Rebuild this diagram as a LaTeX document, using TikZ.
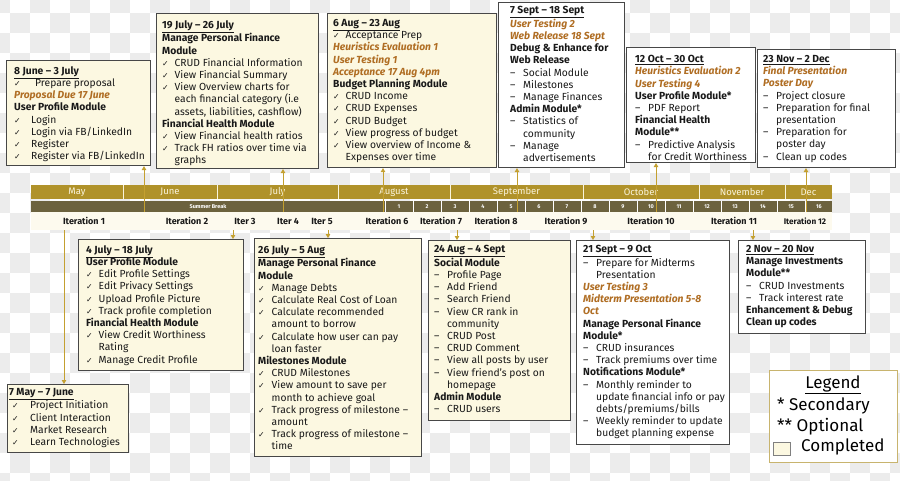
\documentclass[tikz,border=0pt]{standalone}
\usepackage{fontspec}
\setmainfont{Fira Sans}
\newfontfamily\ckf{DejaVu Sans}
\usetikzlibrary{arrows.meta,calc}
\definecolor{cream}{RGB}{252,248,225}
\definecolor{gold}{RGB}{176,146,42}
\definecolor{olive}{RGB}{108,98,62}
\definecolor{connc}{RGB}{196,160,48}
\definecolor{orng}{RGB}{176,110,36}
\definecolor{ink}{RGB}{25,25,25}
\definecolor{checker}{RGB}{236,236,236}
\definecolor{itrow}{RGB}{253,250,238}
\definecolor{legbd}{RGB}{200,180,110}
\definecolor{moncol}{RGB}{250,244,220}
\newcommand\CK[1][12.5pt]{\makebox[#1][l]{{\ckf\fontsize{7.8}{7.8}\selectfont ✓}}}
\newcommand\DS[1][13pt]{\makebox[#1][l]{–}}
\newcommand\IN[1][12.5pt]{\hspace*{#1}}
\newcommand\OR[1]{{\color{orng}\bfseries\itshape #1}}
\newcommand\TT[1]{\underline{\textbf{#1}}}
\newcommand\tbox[9]{%
  \node[#2, minimum width={(#5)-(#3)}, minimum height={(#6)-(#4)}] (#1) at (#3,#4) {};
  \node[txt] (#1t) at ({#7},{#8-4.8}) {#9};
}
\tikzset{
  boxbase/.style={draw=black!72, line width=1.1pt, anchor=north west, inner sep=0pt},
  done/.style={boxbase, fill=cream},
  todo/.style={boxbase, fill=white},
  txt/.style={anchor=north west, align=left, inner sep=0pt, text=ink,
    font=\fontsize{10.3}{12.2}\selectfont},
  conn/.style={draw=connc, line width=0.9pt, -{Triangle[length=4pt,width=4.5pt]}},
  mon/.style={text=moncol, font=\fontsize{9.5}{10}\selectfont, inner sep=0pt},
  wk/.style={text=white, font=\fontsize{5.5}{6}\selectfont\bfseries, inner sep=0pt},
  it/.style={text=ink, font=\fontsize{9}{10}\selectfont\bfseries, inner sep=0pt},
  leg/.style={text=black, font=\fontsize{17}{20}\selectfont, inner sep=0pt},
}
\begin{document}
\begin{tikzpicture}[x=1pt,y=-1pt]
\useasboundingbox (0,0) rectangle (900,480);
\begin{scope}
\clip (0,0) rectangle (900,480);
\fill[white] (0,0) rectangle (900,480);
\foreach \i in {0,...,46}{\foreach \j in {0,...,25}{
  \pgfmathtruncatemacro\pp{mod(\i+\j,2)}
  \ifnum\pp=0 \fill[checker] ({\i*20-10},{\j*20-7}) rectangle +(20,20);\fi
}}
\end{scope}

% ---------- timeline ----------
\fill[gold] (31,185) rectangle (832,199);
\foreach \x in {123,217,338,450,583,699,785} \draw[moncol, line width=1pt] (\x,185) -- (\x,199);
\foreach \x/\t [count=\k] in {77/May,170/June,277.5/July,394/August,516.5/September,641/October,742/November,808.5/Dec}
  \node[mon] (m\k) at (\x,192) {\t};
\fill[olive] (31,201) rectangle (832,212);
\foreach \k in {0,...,15} \draw[white, line width=1pt] ({385+28*\k},201) -- ++(0,11);
\node[wk] (sb) at (208,206.5) {Summer Break};
\foreach \k in {1,...,16} \node[wk] (w\k) at ({371+28*\k},206.5) {\k};
\fill[itrow] (31,212) rectangle (832,230);
\foreach \x/\t [count=\k] in {84/Iteration 1,187/Iteration 2,245/Iter 3,288/Iter 4,322/Iter 5,387/Iteration 6,441/Iteration 7,496/Iteration 8,566/Iteration 9,651/Iteration 10,734/Iteration 11}
  \node[it] (i\k) at (\x,221) {\t};
\node[it, font=\fontsize{8.2}{9}\selectfont\bfseries] (i12) at (805,221) {Iteration 12};

% ---------- top boxes ----------
\tbox{A}{done}{6}{60}{150}{165}{14}{71}{%
\TT{8 June – 3 July}\\
\CK[21pt]Prepare proposal\\
\OR{Proposal Due 17 June}\\
\textbf{User Profile Module}\\
\CK[17pt]Login\\
\CK[17pt]Login via FB/LinkedIn\\
\CK[17pt]Register\\
\CK[17pt]Register via FB/LinkedIn}

\tbox{B}{done}{156}{13}{318}{168}{162}{25}{%
\TT{19 July – 26 July}\\
\textbf{Manage Personal Finance}\\
\textbf{Module}\\
\CK CRUD Financial Information\\
\CK View Financial Summary\\
\CK View Overview charts for\\
\IN each financial category (i.e\\
\IN assets, liabilities, cashflow)\\
\textbf{Financial Health Module}\\
\CK View Financial health ratios\\
\CK Track FH ratios over time via\\
\IN graphs}

\tbox{C}{done}{327}{13}{496}{167}{333}{24}{%
\TT{6 Aug – 23 Aug}\\
\CK Acceptance Prep\\
\OR{Heuristics Evaluation 1}\\
\OR{User Testing 1}\\
\OR{Acceptance 17 Aug 4pm}\\
\textbf{Budget Planning Module}\\
\CK CRUD Income\\
\CK CRUD Expenses\\
\CK CRUD Budget\\
\CK View progress of budget\\
\CK View overview of Income \&\\
\IN Expenses over time}

\tbox{D}{todo}{498}{2}{624}{167}{510}{11}{%
\TT{7 Sept – 18 Sept}\\
\OR{User Testing 2}\\
\OR{Web Release 18 Sept}\\
\textbf{Debug \& Enhance for}\\
\textbf{Web Release}\\
\DS Social Module\\
\DS Milestones\\
\DS Manage Finances\\
\textbf{Admin Module*}\\
\DS Statistics of\\
\IN[13pt]community\\
\DS Manage\\
\IN[13pt]advertisements}

\tbox{E}{todo}{626}{47}{755}{162}{635}{60}{%
\TT{12 Oct – 30 Oct}\\
\OR{Heuristics Evaluation 2}\\
\OR{User Testing 4}\\
\textbf{User Profile Module*}\\
\DS PDF Report\\
\textbf{Financial Health}\\
\textbf{Module**}\\
\DS Predictive Analysis\\
\IN[13pt]for Credit Worthiness}

\tbox{F}{todo}{757}{49}{895}{167}{763}{60}{%
\TT{23 Nov – 2 Dec}\\
\OR{Final Presentation}\\
\OR{Poster Day}\\
\DS Project closure\\
\DS Preparation for final\\
\IN[13pt]presentation\\
\DS Preparation for\\
\IN[13pt]poster day\\
\DS Clean up codes}

% ---------- bottom boxes ----------
\tbox{G}{done}{78}{239}{243}{370}{86}{250}{%
\TT{4 July – 18 July}\\
\textbf{User Profile Module}\\
\CK Edit Profile Settings\\
\CK Edit Privacy Settings\\
\CK Upload Profile Picture\\
\CK Track profile completion\\
\textbf{Financial Health Module}\\
\CK View Credit Worthiness\\
\IN Rating\\
\CK Manage Credit Profile}

\tbox{H}{done}{7}{384}{128}{452}{9}{393}{%
\TT{7 May – 7 June}\\
\hspace*{3pt}\CK[18pt]Project Initiation\\
\hspace*{3pt}\CK[18pt]Client Interaction\\
\hspace*{3pt}\CK[18pt]Market Research\\
\hspace*{3pt}\CK[18pt]Learn Technologies}

\tbox{I}{done}{254}{238}{421}{456}{258}{250}{%
\TT{26 July – 5 Aug}\\
\textbf{Manage Personal Finance}\\
\textbf{Module}\\
\CK[13.5pt]Manage Debts\\
\CK[13.5pt]Calculate Real Cost of Loan\\
\CK[13.5pt]Calculate recommended\\
\IN[13.5pt]amount to borrow\\
\CK[13.5pt]Calculate how user can pay\\
\IN[13.5pt]loan faster\\
\textbf{Milestones Module}\\
\CK[13.5pt]CRUD Milestones\\
\CK[13.5pt]View amount to save per\\
\IN[13.5pt]month to achieve goal\\
\CK[13.5pt]Track progress of milestone –\\
\IN[13.5pt]amount\\
\CK[13.5pt]Track progress of milestone –\\
\IN[13.5pt]time}

\tbox{J}{done}{428}{240}{570}{420}{434}{250}{%
\TT{24 Aug – 4 Sept}\\
\textbf{Social Module}\\
\DS Profile Page\\
\DS Add Friend\\
\DS Search Friend\\
\DS View CR rank in\\
\IN[13pt]community\\
\DS CRUD Post\\
\DS CRUD Comment\\
\DS View all posts by user\\
\DS View friend's post on\\
\IN[13pt]homepage\\
\textbf{Admin Module}\\
\DS CRUD users}

\tbox{K}{todo}{576}{240}{729}{444}{583}{250}{%
\TT{21 Sept – 9 Oct}\\
\DS Prepare for Midterms\\
\IN[13pt]Presentation\\
\OR{User Testing 3}\\
\OR{Midterm Presentation 5-8}\\
\OR{Oct}\\
\textbf{Manage Personal Finance}\\
\textbf{Module*}\\
\DS CRUD insurances\\
\DS Track premiums over time\\
\textbf{Notifications Module*}\\
\DS Monthly reminder to\\
\IN[13pt]update financial info or pay\\
\IN[13pt]debts/premiums/bills\\
\DS Weekly reminder to update\\
\IN[13pt]budget planning expense}

\tbox{L}{todo}{738}{240}{865}{333}{746}{250}{%
\TT{2 Nov – 20 Nov}\\
\textbf{Manage Investments}\\
\textbf{Module**}\\
\DS CRUD Investments\\
\DS Track interest rate\\
\textbf{Enhancement \& Debug}\\
\textbf{Clean up codes}}

% ---------- connectors ----------
\foreach \n/\x in {A/144,B/283,C/383,D/517,E/656,F/806}{
  \coordinate (c\n) at (\x,212);
  \draw[conn] (c\n) -- (c\n |- \n.south);
}
\foreach \n/\x in {H/64,G/233,I/328,J/457,K/593,L/753}{
  \coordinate (c\n) at (\x,230);
  \draw[conn] (c\n) -- (c\n |- \n.north);
}

% ---------- legend ----------
\node[draw=legbd, line width=1pt, fill=white, anchor=north west, inner sep=0pt,
  minimum width=128, minimum height=92] (leg) at (769,370) {};
\node[leg] (legt) at (833,385) {\underline{Legend}};
\node[leg, anchor=west] (l1) at (777,406) {* Secondary};
\node[leg, anchor=west] (l2) at (777,427) {** Optional};
\node[draw=black!50, line width=0.6pt, fill=cream, anchor=north west, inner sep=0pt,
  minimum width=17, minimum height=13] (lsq) at (773,442) {};
\node[leg, anchor=west] (l3) at (801,447) {Completed};
\end{tikzpicture}
\end{document}
